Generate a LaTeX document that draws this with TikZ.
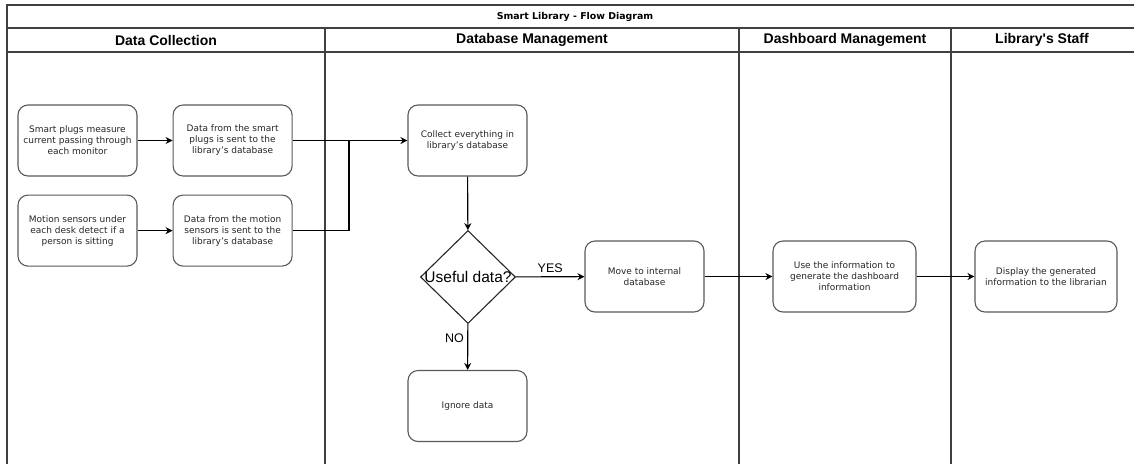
\documentclass[tikz,border=0pt]{standalone}
\usepackage{fontspec}
\setmainfont{DejaVu Sans}
\newfontfamily\headfont{Liberation Sans}
\usetikzlibrary{shapes.geometric, positioning, arrows.meta}

\begin{document}
\begin{tikzpicture}[x=1pt, y=-1pt, >={Stealth[length=7pt, width=7pt]}]
        \tikzstyle{task}=[draw=black!65, rectangle, rounded corners=10pt, line width=1.1pt, minimum width=119pt, minimum height=71pt, align=center, inner sep=1pt, text=black!85, font=\fontsize{9}{11}\selectfont];
        \tikzstyle{lane}=[draw=black!75, line width=1.6pt];
        \tikzstyle{head}=[font=\headfont\bfseries\fontsize{14}{16}\selectfont];
        \tikzstyle{answer}=[font=\headfont\fontsize{12.5}{14}\selectfont];
        \tikzstyle{flow}=[->, line width=1.1pt];

        \useasboundingbox (0,0) rectangle (1134,464);

        % swimlanes
        \draw[lane] (7,464) -- (7,5) -- (1134,5);
        \draw[lane] (7,28) -- (1134,28);
        \draw[lane] (7,52) -- (1134,52);
        \foreach \x in {325, 739, 951}
          \draw[lane, line width=2pt] (\x,28) -- (\x,464);

        \node[font=\bfseries\fontsize{9.4}{11}\selectfont] (title) at (575,17) {Smart Library - Flow Diagram};
        \node[head] (hcollect) at (166,40) {Data Collection};
        \node[head] (hdatabase) at (532,40) {Database Management};
        \node[head] (hdashboard) at (845,40) {Dashboard Management};
        \node[head] (hstaff) at (1042,40) {Library's Staff};

        % tasks
        \node[task] (plugs) at (77.5,140.5) {Smart plugs measure\\current passing through\\each monitor};
        \node[task, right=35pt of plugs] (plugsdata) {Data from the smart\\plugs is sent to the\\library's database};
        \node[task, below=18pt of plugs] (motion) {Motion sensors under\\each desk detect if a\\person is sitting};
        \node[task, right=35pt of motion] (motiondata) {Data from the motion\\sensors is sent to the\\library's database};
        \node[task] (collect) at (467.5,140.5) {Collect everything in\\library's database};
        \node[diamond, draw=black!85, line width=1.1pt, minimum width=95pt, minimum height=93pt, inner sep=0pt,
              label={[font=\headfont\fontsize{15.5}{17}\selectfont]center:Useful data?}] (useful) at (468,277) {};
        \node[task] (ignore) at (467.5,406) {Ignore data};
        \node[task] (move) at (644.5,276.5) {Move to internal\\database};
        \node[task, minimum width=143pt] (dashinfo) at (844.5,276.5) {Use the information to\\generate the dashboard\\information};
        \node[task, minimum width=142pt] (display) at (1046,276.5) {Display the generated\\information to the librarian};

        \coordinate (merge) at (349,140.5);
        \draw[line width=1.1pt] (motiondata.east) -| (merge);

        \path[flow]
        (plugs) edge (plugsdata)
        (plugsdata) edge (collect)
        (motion) edge (motiondata)
        (collect) edge (useful)
        (useful) edge node[answer, above] {YES} (move)
        (useful) edge node[answer, left, pos=.3] {NO} (ignore)
        (move) edge (dashinfo)
        (dashinfo) edge (display);
      \end{tikzpicture}
\end{document}
